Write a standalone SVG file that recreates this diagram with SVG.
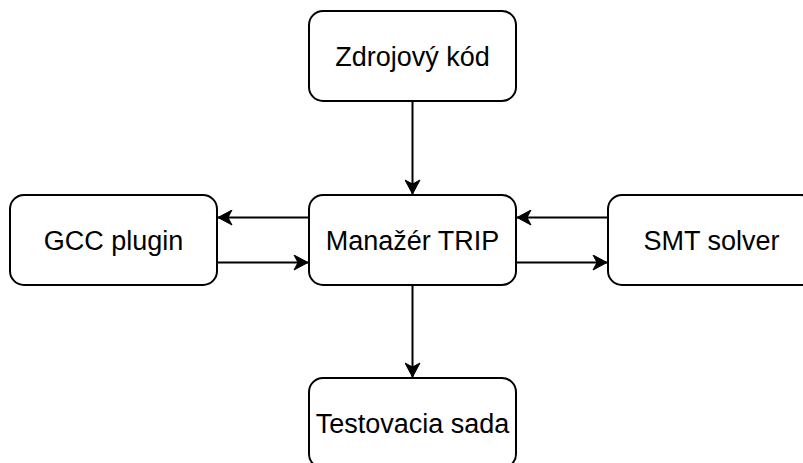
<svg xmlns="http://www.w3.org/2000/svg" width="803" height="463" viewBox="0 0 803 463">
<style>
.box{fill:#ffffff;stroke:#000000;stroke-width:2}
.lbl{font-family:"Liberation Sans",Arial,sans-serif;font-size:27px;fill:#000000;text-anchor:middle}
.edge{fill:none;stroke:#000000;stroke-width:2;marker-end:url(#arr)}
</style>
<defs>
<marker id="arr" markerUnits="userSpaceOnUse" viewBox="-15 -8 16 16" refX="0" refY="0" markerWidth="16" markerHeight="16" orient="auto">
<path d="M0,0 L-14,-7.5 L-10,0 L-14,7.5 Z" fill="#000000" stroke="#000000" stroke-width="1"/>
</marker>
</defs>
<rect width="803" height="463" fill="#ffffff"/>
<g id="connectors">
<path class="edge" d="M412.5,101 L412.5,194"/>
<path class="edge" d="M309,217.5 L218,217.5"/>
<path class="edge" d="M217,262.5 L308,262.5"/>
<path class="edge" d="M608,217.5 L517,217.5"/>
<path class="edge" d="M516,262.5 L607,262.5"/>
<path class="edge" d="M412.5,285 L412.5,377"/>
</g>
<g id="zdrojovy-kod">
<rect class="box" x="309" y="11" width="207" height="90" rx="14" ry="14"/>
<text class="lbl" x="412.5" y="65.5">Zdrojový kód</text>
</g>
<g id="gcc-plugin">
<rect class="box" x="10" y="195" width="207" height="90" rx="14" ry="14"/>
<text class="lbl" x="113.5" y="249.5">GCC plugin</text>
</g>
<g id="manazer-trip">
<rect class="box" x="309" y="195" width="207" height="90" rx="14" ry="14"/>
<text class="lbl" x="412.5" y="249.5">Manažér TRIP</text>
</g>
<g id="smt-solver">
<rect class="box" x="608" y="195" width="207" height="90" rx="14" ry="14"/>
<text class="lbl" x="711.5" y="249.5">SMT solver</text>
</g>
<g id="testovacia-sada">
<rect class="box" x="309" y="378" width="207" height="90" rx="14" ry="14"/>
<text class="lbl" x="412.5" y="432.5">Testovacia sada</text>
</g>
</svg>
